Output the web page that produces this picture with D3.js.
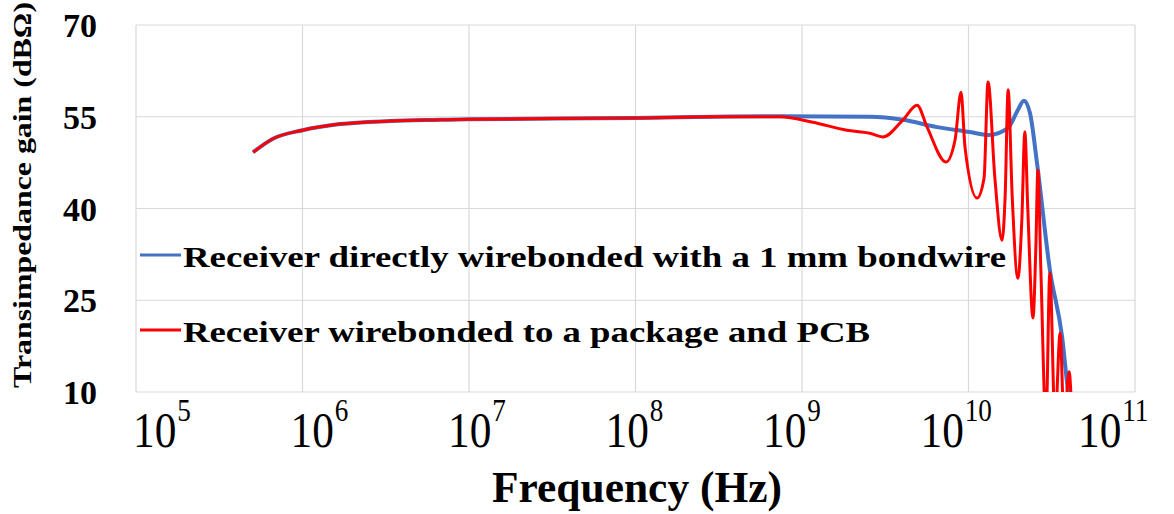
<!DOCTYPE html>
<html>
<head>
<meta charset="utf-8">
<script src="https://cdn.jsdelivr.net/npm/d3@7/dist/d3.min.js"></script>
<style>
  body { margin: 0; background: #fff; }
</style>
</head>
<body>
<div id="tia-gain-chart"></div>
<script>
// x tick exponents (10^n Hz) and y ticks (dBOhm)
var freqExponents = [5, 6, 7, 8, 9, 10, 11];
var gainTicks = [10, 25, 40, 55, 70];

var seriesNames = [
    "Receiver directly wirebonded with a 1 mm bondwire",
    "Receiver wirebonded to a package and PCB"
];

// direct bondwire (blue)
var directFreq = [5.05e5, 6.65e5, 1.0e6, 1.68e6, 3.36e6, 6.7e6, 1e7, 1e8, 3e8, 7.4e8, 2.56e9, 4.04e9, 6.47e9,
    1.02e10, 1.31e10, 1.73e10, 1.98e10, 2.15e10, 2.34e10, 2.58e10, 3.08e10, 3.65e10, 3.96e10, 4.37e10];
var directGain = [49.2, 51.4, 52.8, 53.8, 54.3, 54.5, 54.6, 54.8, 55.0, 55.1, 55.0, 54.5, 53.3,
    52.5, 52.0, 53.2, 56.1, 57.6, 55.6, 47.4, 30.0, 19.0, 10.3, 5];

// package + PCB (red)
var packageFreq = [5.05e5, 6.65e5, 1.0e6, 1.68e6, 3.36e6, 6.7e6, 1e7, 1e8, 3e8, 7.4e8, 1.16e9, 1.86e9, 2.56e9,
    3.06e9, 4.04e9, 4.91e9, 5.64e9, 7.33e9, 8.3e9, 9.02e9, 9.53e9, 1.125e10, 1.24e10, 1.31e10, 1.44e10,
    1.59e10, 1.66e10, 1.73e10, 1.83e10, 1.98e10, 2.09e10, 2.18e10, 2.27e10, 2.44e10, 2.54e10, 2.61e10,
    2.72e10, 2.92e10, 3.08e10, 3.31e10, 3.55e10, 3.75e10, 4.02e10, 4.19e10];
var packageGain = [49.2, 51.4, 52.8, 53.8, 54.3, 54.5, 54.6, 54.8, 55.0, 55.0, 54.1, 52.8, 52.3,
    51.7, 54.5, 56.9, 53.3, 47.6, 51.2, 59.0, 50.0, 41.7, 45.0, 60.7, 45.0,
    34.8, 42.0, 59.4, 42.0, 28.6, 38.0, 52.5, 40.0, 22.1, 34.0, 46.3,
    30.0, 5, 29.5, 5, 19.6, 5, 13.3, 5];

var serif = "'Liberation Serif', 'Times New Roman', Times, 'DejaVu Serif', serif";

var margin = { top: 25, right: 39, bottom: 122, left: 136 },
    width = 1174 - margin.left - margin.right,
    height = 514 - margin.top - margin.bottom;

var svg = d3.select("#tia-gain-chart")
    .append("svg")
    .attr("width", 1174)
    .attr("height", 514)
    .attr("font-family", serif);

var chart = svg.append("g")
    .attr("transform", "translate(" + margin.left + "," + margin.top + ")");

var x = d3.scaleLog()
    .domain([1e5, 1e11])
    .range([0, width]);

var y = d3.scaleLinear()
    .domain([10, 70])
    .range([height, 0]);

// gridlines
chart.selectAll(".hgrid")
    .data(gainTicks)
    .enter().append("line")
    .attr("x1", 0).attr("x2", width)
    .attr("y1", function (d) { return y(d); })
    .attr("y2", function (d) { return y(d); })
    .attr("stroke", "#d9d9d9")
    .attr("stroke-width", 1.2);

chart.selectAll(".vgrid")
    .data(freqExponents)
    .enter().append("line")
    .attr("x1", function (d) { return x(Math.pow(10, d)); })
    .attr("x2", function (d) { return x(Math.pow(10, d)); })
    .attr("y1", 0).attr("y2", height)
    .attr("stroke", "#d9d9d9")
    .attr("stroke-width", 1.2);

// y tick labels
chart.selectAll(".ylabel")
    .data(gainTicks)
    .enter().append("text")
    .attr("x", -39)
    .attr("y", function (d) { return y(d) + 12; })
    .attr("text-anchor", "end")
    .attr("font-weight", "bold")
    .style("font-size", "34px")
    .text(function (d) { return d; });

// x tick labels, 10^n (slightly condensed like the original)
var labelX = d3.scaleLinear()
    .domain([5, 11])
    .range([x(1e5) - 3, x(1e11) - 57]);

var xl = chart.selectAll(".xlabel")
    .data(freqExponents)
    .enter().append("text")
    .attr("transform", function (d) {
        return "translate(" + labelX(d) + "," + (height + 55) + ") scale(0.85,1)";
    });
xl.append("tspan")
    .style("font-size", "51px")
    .text("10");
xl.append("tspan")
    .attr("dx", 1)
    .attr("dy", -26)
    .style("font-size", "32px")
    .text(function (d) { return d; });

// axis titles
svg.append("text")
    .attr("x", 492)
    .attr("y", 502)
    .attr("font-weight", "bold")
    .attr("textLength", 290)
    .attr("lengthAdjust", "spacingAndGlyphs")
    .style("font-size", "44px")
    .text("Frequency (Hz)");

svg.append("text")
    .attr("transform", "translate(31,195) rotate(-90)")
    .attr("text-anchor", "middle")
    .attr("font-weight", "bold")
    .attr("textLength", 386)
    .attr("lengthAdjust", "spacingAndGlyphs")
    .style("font-size", "26px")
    .text("Transimpedance gain (dB\u03A9)");

// legend
var legendColors = ["#4472c4", "#ff0000"];
var legendLen = [823, 687];
seriesNames.forEach(function (name, i) {
    var ly = 255 + i * 75;
    svg.append("line")
        .attr("x1", 140).attr("x2", 181)
        .attr("y1", ly).attr("y2", ly)
        .attr("stroke", legendColors[i])
        .attr("stroke-width", 3);
    svg.append("text")
        .attr("x", 183)
        .attr("y", ly + 12)
        .attr("font-weight", "bold")
        .attr("textLength", legendLen[i])
        .attr("lengthAdjust", "spacingAndGlyphs")
        .style("font-size", "30px")
        .text(name);
});

// curves
chart.append("clipPath")
    .attr("id", "plot-clip")
    .append("rect")
    .attr("x", 0).attr("y", -20)
    .attr("width", width).attr("height", height + 20);

var line = d3.line()
    .x(function (d) { return x(d[0]); })
    .y(function (d) { return y(d[1]); })
    .curve(d3.curveMonotoneX);

chart.append("path")
    .datum(d3.zip(directFreq, directGain))
    .attr("clip-path", "url(#plot-clip)")
    .attr("fill", "none")
    .attr("stroke", "#4472c4")
    .attr("stroke-width", 4)
    .attr("d", line);

chart.append("path")
    .datum(d3.zip(packageFreq, packageGain))
    .attr("clip-path", "url(#plot-clip)")
    .attr("fill", "none")
    .attr("stroke", "#ff0000")
    .attr("stroke-width", 3)
    .attr("d", line);
</script>
</body>
</html>
